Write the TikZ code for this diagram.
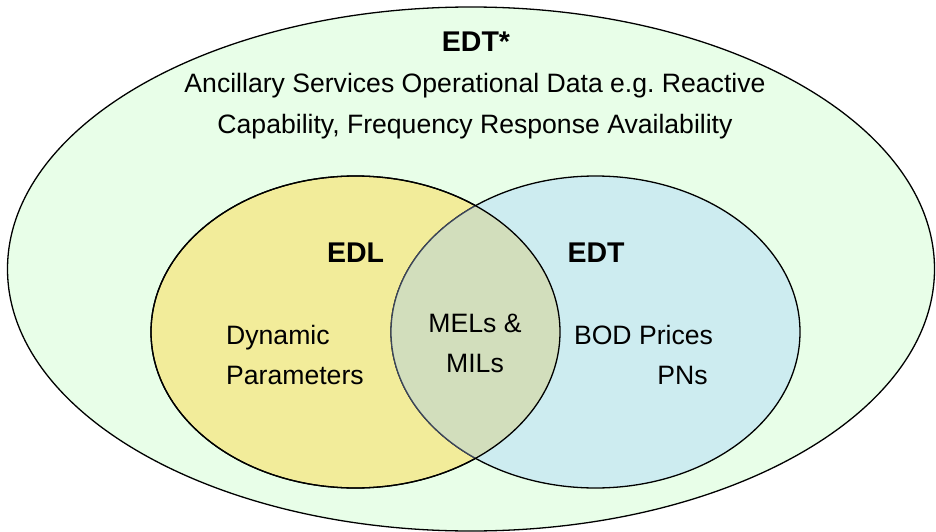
\documentclass[tikz,border=0pt]{standalone}
\usepackage{fontspec}
\setmainfont{Liberation Sans}
\usetikzlibrary{shapes.geometric}
\definecolor{outerfill}{RGB}{232,254,232}
\definecolor{edlfill}{RGB}{242,236,154}
\definecolor{edtfill}{RGB}{205,236,240}
\definecolor{bothfill}{RGB}{210,222,188}
\definecolor{edgeblue}{RGB}{60,70,90}
\tikzset{
  set/.style={ellipse, draw=black, line width=1.3pt, inner sep=0pt},
  txt/.style={anchor=base, inner sep=0pt, font=\fontsize{26.6}{30}\selectfont},
  ttl/.style={txt, font=\fontsize{28.5}{32}\selectfont\bfseries}
}
\begin{document}
\begin{tikzpicture}[x=1pt,y=-1pt]
\useasboundingbox (0,0) rectangle (936,532);
\node[set, fill=outerfill, minimum width=927pt, minimum height=524pt] (outer) at (471,269) {};
\node[set, fill=edlfill, minimum width=409pt, minimum height=312pt] (edl) at (355.5,332) {};
\node[set, fill=edtfill, minimum width=409pt, minimum height=312pt] (edt) at (595.5,332) {};
\begin{scope}
  \clip (355.5,332) ellipse [x radius=204.5pt, y radius=156pt];
  \fill[bothfill] (595.5,332) ellipse [x radius=204.5pt, y radius=156pt];
  \draw[edgeblue, line width=1.3pt] (595.5,332) ellipse [x radius=204.5pt, y radius=156pt];
\end{scope}
\draw[black, line width=1.3pt] (355.5,332) ellipse [x radius=204.5pt, y radius=156pt];
\node[ttl] (t0) at (476,52) {EDT*};
\node[txt] (t1) at (475,93) {Ancillary Services Operational Data e.g.\ Reactive};
\node[txt] (t2) at (475,133) {Capability, Frequency Response Availability};
\node[ttl] (l0) at (355.5,262) {EDL};
\node[ttl] (r0) at (596,262) {EDT};
\node[txt, anchor=base west] (l1) at (226,344) {Dynamic};
\node[txt, anchor=base west] (l2) at (226,384) {Parameters};
\node[txt] (m1) at (475,332) {MELs \&};
\node[txt] (m2) at (475,372) {MILs};
\node[txt] (r1) at (643.5,344) {BOD Prices};
\node[txt] (r2) at (682.5,384) {PNs};
\end{tikzpicture}
\end{document}
